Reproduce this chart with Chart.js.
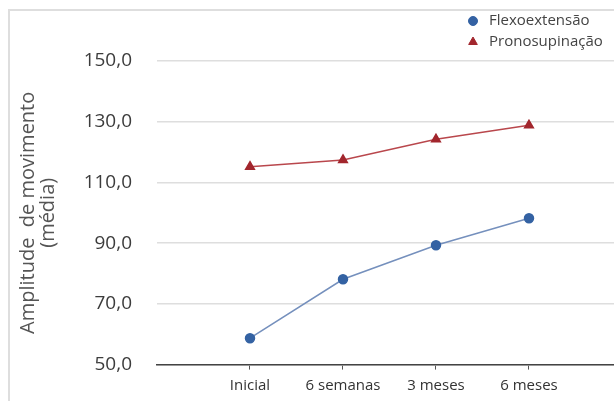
<!DOCTYPE html>
<html>
<head>
<meta charset="utf-8">
<script src="https://cdn.jsdelivr.net/npm/chart.js@4/dist/chart.umd.min.js"></script>
<style>
  html, body { margin: 0; padding: 0; background: #fff; overflow: hidden; }
  canvas { display: block; }
</style>
</head>
<body>
<canvas id="chart" width="614" height="401"></canvas>
<script>
const categories = ["Inicial", "6 semanas", "3 meses", "6 meses"];
const flexoextensao = [58.7, 78.1, 89.3, 98.2];
const pronosupinacao = [115.2, 117.4, 124.2, 128.8];
const yTicks = [50, 70, 90, 110, 130, 150];

const FONT = "'Open Sans', sans-serif";

function toPoints(values) {
  return values.map((v, i) => ({ x: i + 1, y: v }));
}

// light frame of the original figure (top and left edges)
const frame = {
  id: "frame",
  afterDraw(chart) {
    const ctx = chart.ctx;
    ctx.save();
    ctx.fillStyle = "#dedede";
    ctx.fillRect(8, 9, 2, chart.height - 9);
    ctx.fillRect(8, 9, chart.width - 8, 2);
    ctx.restore();
  },
};

// legend drawn as a stacked list over the top-right corner
const stackedLegend = {
  id: "stackedLegend",
  afterDraw(chart) {
    const ctx = chart.ctx;
    ctx.save();
    chart.data.datasets.forEach((ds, i) => {
      const y = 21 + i * 21;
      ctx.beginPath();
      ctx.fillStyle = ds.pointBackgroundColor;
      ctx.strokeStyle = ds.pointBorderColor;
      ctx.lineWidth = 1;
      Chart.helpers.drawPoint(ctx, {
        pointStyle: ds.pointStyle,
        radius: ds.pointRadius,
        rotation: 0,
        borderWidth: 1,
      }, 473, y);
      ctx.fillStyle = "#444";
      ctx.font = "15px " + FONT;
      ctx.textBaseline = "middle";
      ctx.fillText(ds.label, 489, y);
    });
    ctx.restore();
  },
};

new Chart(document.getElementById("chart"), {
  type: "line",
  data: {
    datasets: [
      {
        label: "Flexoextensão",
        data: toPoints(flexoextensao),
        borderColor: "#7590bd",
        borderWidth: 1.5,
        pointStyle: "circle",
        pointRadius: 4.5,
        pointBackgroundColor: "#3462a3",
        pointBorderColor: "#3462a3",
      },
      {
        label: "Pronosupinação",
        data: toPoints(pronosupinacao),
        borderColor: "#b9474c",
        borderWidth: 1.5,
        pointStyle: "triangle",
        pointRadius: 5,
        pointBackgroundColor: "#a2262d",
        pointBorderColor: "#a2262d",
      },
    ],
  },
  options: {
    responsive: false,
    animation: false,
    layout: { autoPadding: false, padding: { top: 61, left: 8, right: 0, bottom: 2 } },
    plugins: { legend: { display: false }, tooltip: { enabled: false } },
    scales: {
      x: {
        type: "linear",
        min: 0,
        max: 4.914,
        afterBuildTicks: axis => { axis.ticks = categories.map((_, i) => ({ value: i + 1 })); },
        afterFit: axis => { axis.height = 30; },
        ticks: {
          callback: v => categories[v - 1],
          font: { family: FONT, size: 15 },
          color: "#333",
          padding: 7,
          autoSkip: false,
          maxRotation: 0,
        },
        grid: {
          drawOnChartArea: false,
          drawTicks: true,
          tickLength: 5,
          color: c => (c.tick && c.tick.value >= 1 && c.tick.value <= categories.length ? "#555" : "rgba(0,0,0,0)"),
        },
        border: { display: true, color: "#444", width: 1.5 },
      },
      y: {
        min: 50,
        max: 150,
        afterBuildTicks: axis => { axis.ticks = yTicks.map(v => ({ value: v })); },
        afterFit: axis => { axis.width = 149; },
        ticks: {
          callback: v => v.toFixed(1).replace(".", ","),
          font: { family: FONT, size: 19 },
          color: "#3c3c3c",
          padding: 25,
        },
        grid: { color: "#dedede", lineWidth: 1.5, drawTicks: false },
        border: { display: false },
        title: {
          display: true,
          text: ["Amplitude  de movimento", "(média)"],
          font: { family: FONT, size: 20, lineHeight: 1.0 },
          color: "#555",
          padding: { top: 10, bottom: 25 },
        },
      },
    },
  },
  plugins: [frame, stackedLegend],
});
</script>
</body>
</html>
